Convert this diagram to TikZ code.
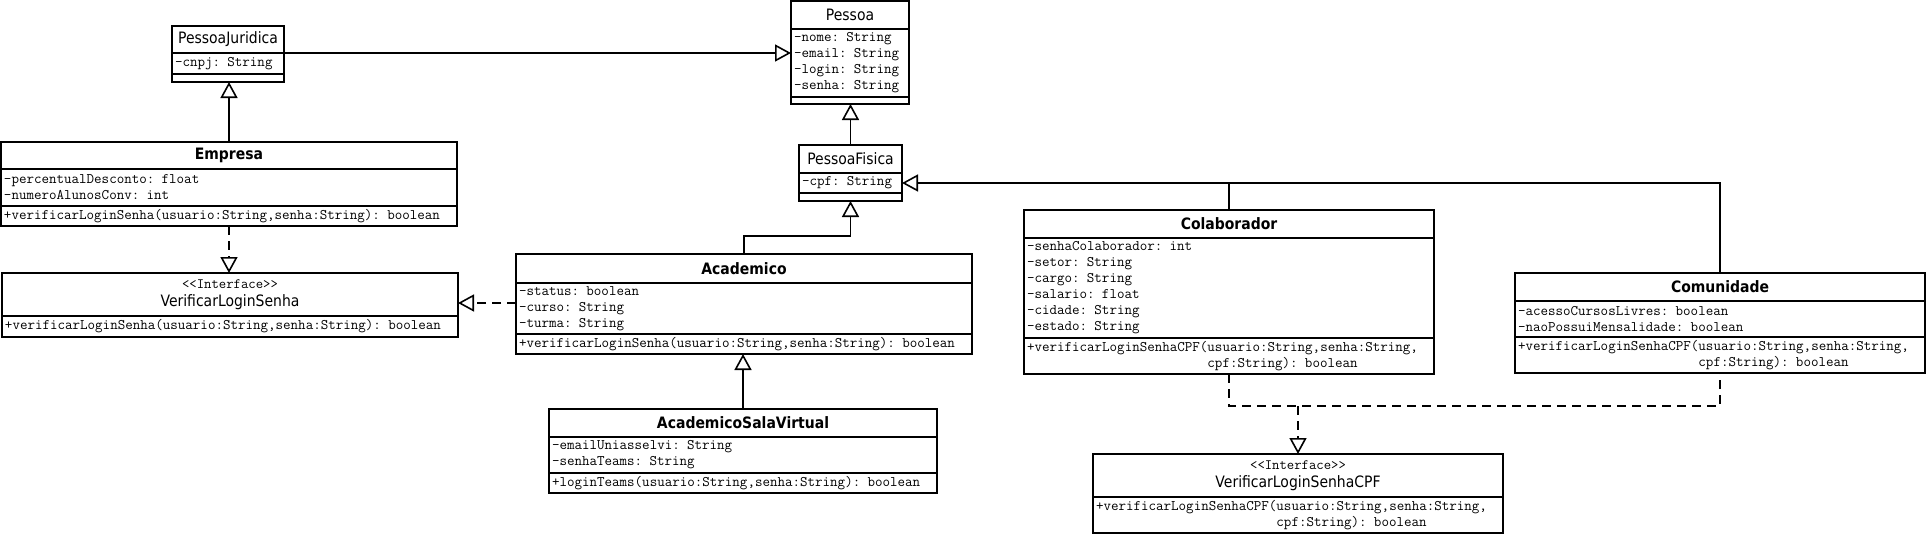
\documentclass[tikz,border=0pt]{standalone}
\usepackage{fontspec}
\newfontfamily\namefont[FakeStretch=0.89]{DejaVu Sans}
\usetikzlibrary{positioning, arrows.meta}

\begin{document}
\begin{tikzpicture}[x=1pt, y=-1pt, line width=1.6pt]
	\tikzstyle{title} = [draw, anchor=north west, outer sep=0pt, inner xsep=3pt, inner ysep=0pt, align=center, font={\namefont\fontsize{15.7}{18}\selectfont}];
	\tikzstyle{members} = [draw, outer sep=0pt, inner xsep=3pt, inner ysep=0pt, align=left, font={\ttfamily\fontsize{14.6}{16}\selectfont}];
	\tikzstyle{gen} = [-{Triangle[open, length=16pt, width=17pt]}];
	\tikzstyle{real} = [gen, dash pattern=on 9pt off 6pt];
	\tikzset{cls/.style={text width=#1pt}}
	
	\useasboundingbox (0,0) rectangle (1929,536);
	
	\def \stereo {{\fontsize{14.3}{18}\ttfamily <<Interface>>}}
	\def \cpfindent {\phantom{+verificarLoginSenhaCPF(}}
	
	% Pessoa
	\node[title, cls=112, minimum height=28pt] (pessoa) at (791,1) {Pessoa};
	\node[members, cls=112, minimum height=68pt, below=0pt of pessoa] (pessoa-a) {-nome: String\\-email: String\\-login: String\\-senha: String};
	\node[members, cls=112, minimum height=7pt, below=0pt of pessoa-a] (pessoa-m) {};
	
	% PessoaJuridica
	\node[title, cls=106, minimum height=27pt] (pj) at (172,26) {PessoaJuridica};
	\node[members, cls=106, minimum height=21pt, below=0pt of pj] (pj-a) {-cnpj: String};
	\node[members, cls=106, minimum height=8pt, below=0pt of pj-a] (pj-m) {};
	
	% PessoaFisica
	\node[title, cls=97, minimum height=28pt] (pf) at (799,145) {PessoaFisica};
	\node[members, cls=97, minimum height=20pt, below=0pt of pf] (pf-a) {-cpf: String};
	\node[members, cls=97, minimum height=8pt, below=0pt of pf-a] (pf-m) {};
	
	% Empresa
	\node[title, cls=450, minimum height=27pt] (empresa) at (1,142) {\textbf{Empresa}};
	\node[members, cls=450, minimum height=37pt, below=0pt of empresa] (empresa-a) {-percentualDesconto: float\\-numeroAlunosConv: int};
	\node[members, cls=450, minimum height=20pt, below=0pt of empresa-a] (empresa-m) {+verificarLoginSenha(usuario:String,senha:String): boolean};
	
	% VerificarLoginSenha
	\node[title, cls=450, minimum height=43pt] (vls) at (2,273) {\stereo\\VerificarLoginSenha};
	\node[members, cls=450, minimum height=21pt, below=0pt of vls] (vls-m) {+verificarLoginSenha(usuario:String,senha:String): boolean};
	
	% Academico
	\node[title, cls=450, minimum height=29pt] (academico) at (516,254) {\textbf{Academico}};
	\node[members, cls=450, minimum height=51pt, below=0pt of academico] (academico-a) {-status: boolean\\-curso: String\\-turma: String};
	\node[members, cls=450, minimum height=20pt, below=0pt of academico-a] (academico-m) {+verificarLoginSenha(usuario:String,senha:String): boolean};
	
	% AcademicoSalaVirtual
	\node[title, cls=382, minimum height=28pt] (asv) at (549,409) {\textbf{AcademicoSalaVirtual}};
	\node[members, cls=382, minimum height=36pt, below=0pt of asv] (asv-a) {-emailUniasselvi: String\\-senhaTeams: String};
	\node[members, cls=382, minimum height=20pt, below=0pt of asv-a] (asv-m) {+loginTeams(usuario:String,senha:String): boolean};
	
	% Colaborador
	\node[title, cls=404, minimum height=28pt] (colab) at (1024,210) {\textbf{Colaborador}};
	\node[members, cls=404, minimum height=100pt, below=0pt of colab] (colab-a) {-senhaColaborador: int\\-setor: String\\-cargo: String\\-salario: float\\-cidade: String\\-estado: String};
	\node[members, cls=404, minimum height=36pt, below=0pt of colab-a] (colab-m) {+verificarLoginSenhaCPF(usuario:String,senha:String,\\\cpfindent cpf:String): boolean};
	
	% Comunidade
	\node[title, cls=404, minimum height=28pt] (comu) at (1515,273) {\textbf{Comunidade}};
	\node[members, cls=404, minimum height=36pt, below=0pt of comu] (comu-a) {-acessoCursosLivres: boolean\\-naoPossuiMensalidade: boolean};
	\node[members, cls=404, minimum height=36pt, below=0pt of comu-a] (comu-m) {+verificarLoginSenhaCPF(usuario:String,senha:String,\\\cpfindent cpf:String): boolean};
	
	% VerificarLoginSenhaCPF
	\node[title, cls=404, minimum height=43pt] (vlscpf) at (1093,454) {\stereo\\VerificarLoginSenhaCPF};
	\node[members, cls=404, minimum height=36pt, below=0pt of vlscpf] (vlscpf-m) {+verificarLoginSenhaCPF(usuario:String,senha:String,\\\cpfindent cpf:String): boolean};
	
	% heranca
	\draw[gen] (pj.south east) -- (pj.south east -| pessoa.west);
	\draw[gen] (pf.north) -- (pf.north |- pessoa-m.south);
	\draw[gen] (empresa.north) -- (empresa.north |- pj-m.south);
	\draw[gen] (academico.north) -- ++(0,-18) -| (pf-m.south);
	\draw[gen] (asv.north) -- (asv.north |- academico-m.south);
	\draw[gen] (colab.north) |- (pf-a.east);
	\draw (comu.north) |- (colab.north |- pf-a.east);
	
	% interfaces
	\coordinate (acad-in) at ([yshift=5.5pt]academico-a.west);
	\draw[real] (empresa-m.south) -- (empresa-m.south |- vls.north);
	\draw[real] (acad-in) -- (acad-in -| vls.east);
	\coordinate (join) at ([yshift=-32pt]colab-m.south);
	\draw[dash pattern=on 9pt off 6pt] (colab-m.south) -- (join) -| (comu-m.south);
	\draw[real] (join -| vlscpf.north) -- (vlscpf.north);
	
\end{tikzpicture}
\end{document}
